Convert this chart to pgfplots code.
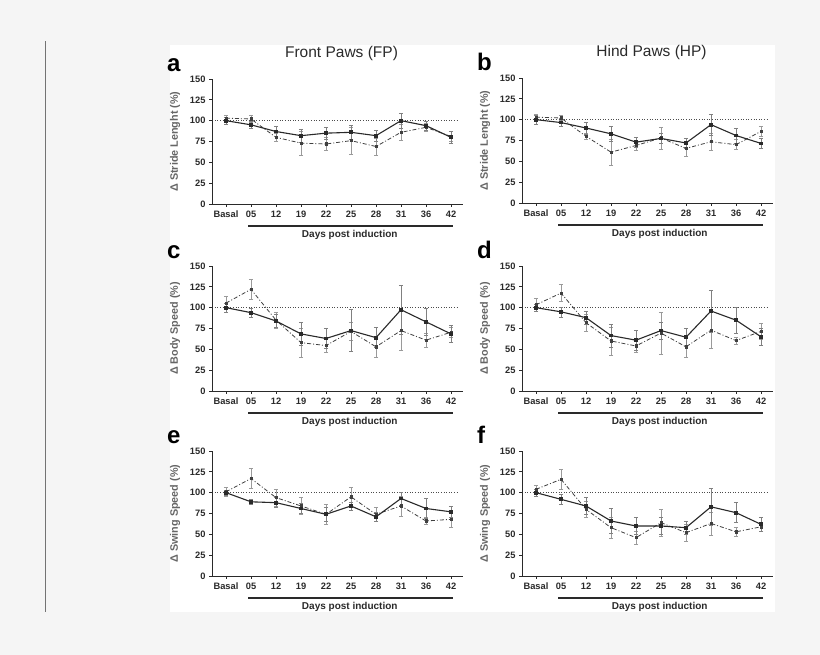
\documentclass[border=0pt]{standalone}
\usepackage{fontspec}
\setmainfont{Liberation Sans}
\usepackage{pgfplots}
\usepackage{pgfplotstable}
\pgfplotsset{compat=1.18}

\definecolor{bg}{HTML}{F5F5F5}
\definecolor{ink}{HTML}{2A2A2A}
\definecolor{ebar}{HTML}{808080}

\pgfplotstableread{
x s se d de
0 100 4 103 3
1 95 4 102 4
2 87 6 80 5
3 82 8 73 14
4 85 7 72 8
5 86 8 76 16
6 82 7 69 10
7 100 9 86 10
8 94 5 92 5
9 80 7 81 6
}\tabA
\pgfplotstableread{
x s se d de
0 100 5 103 3
1 96.5 5 102 3
2 90 7 80 4
3 83 9 61 16
4 73 6 69 6
5 77.5 6 78 13
6 72 6 65.5 9
7 94 13 73.5 10
8 81 9 70 6
9 71.5 6 86 6
}\tabB
\pgfplotstableread{
x s se d de
0 100 5 105.5 8
1 94 5 122 12
2 84 8 85 10
3 68.5 14 58 17
4 63 12 54.5 8
5 72.5 25 71.5 11
6 64 12 53 12
7 97.5 29 72.5 24
8 83 16 61 8
9 68.5 10 70.5 6
}\tabC
\pgfplotstableread{
x s se d de
0 100 4 103.5 8
1 95 6 117.5 10
2 88 8 82 10
3 66.5 14 60 17
4 61 12 54 8
5 72.5 10 69.5 25
6 64.5 11 53 13
7 96 25 73 22
8 85 16 60.5 4
9 65 10 71.5 10
}\tabD
\pgfplotstableread{
x s se d de
0 100 3 101 5
1 89 3 117 12
2 88 6 94 10
3 81 6 84 10
4 74 8 74 12
5 84 5 95 11
6 71 5 74 8
7 93 8 84 12
8 81 12 66 4
9 77 7 68 10
}\tabE
\pgfplotstableread{
x s se d de
0 100 4 104 5
1 92 6 116 12
2 84 10 80 10
3 66 15 58 13
4 60 10 46 8
5 60 10 64 16
6 58 8 52 10
7 83 22 63 14
8 76 12 53 5
9 62 8 59 5
}\tabF

\pgfplotsset{
  panel/.style={
    scale only axis, width=251pt, height=125pt,
    anchor=south west,
    axis x line=bottom, axis y line=left,
    axis line style={-, line width=0.9pt, ink},
    xmin=-0.56, xmax=9.48, ymin=0, ymax=150,
    xtick={0,...,9}, xticklabels={Basal,05,12,19,22,25,28,31,36,42},
    ytick={0,25,50,75,100,125,150},
    tick align=outside, major tick length=3pt,
    tick style={ink, line width=0.8pt},
    tick label style={font=\fontsize{9.3}{10}\selectfont\bfseries, text=ink},
    /pgf/number format/assume math mode=true,
    clip=false,
  },
  sser/.style={line width=1.1pt, ink, mark=square*, mark size=1.3pt,
    mark options={solid},
    error bars/.cd, y dir=both, y explicit,
    error bar style={line width=0.5pt, ebar, solid},
    error mark options={rotate=90, mark size=2.2pt, line width=0.5pt, ebar, solid}},
  dser/.style={line width=0.8pt, black!75, dash pattern=on 4pt off 2pt on 1pt off 2pt,
    mark=square*, mark size=1.1pt, mark options={solid},
    error bars/.cd, y dir=both, y explicit,
    error bar style={line width=0.5pt, ebar!80, solid},
    error mark options={rotate=90, mark size=2.2pt, line width=0.5pt, ebar!80, solid}},
}

\newcommand{\panel}[6]{% x0, y0, table, ylabel, letter, title
\begin{axis}[panel, at={(#1pt,#2pt)}]
  \addplot[black!70, dotted, line width=0.6pt] coordinates {(-0.45,100) (9.25,100)};
  \addplot[dser] table[x=x, y=d, y error=de] {#3};
  \addplot[sser] table[x=x, y=s, y error=se] {#3};
  \draw[ink, line width=1.1pt] (axis cs:0.88,-26.4) -- (axis cs:9.08,-26.4);
  \node[font=\fontsize{10}{12}\selectfont\bfseries, text=ink] at (axis cs:4.95,-37.5) {Days post induction};
  \node[rotate=90, font=\fontsize{10.8}{12}\selectfont\bfseries, text=black!60] at ([xshift=-37pt]rel axis cs:0,0.5) {#4};
  \node[anchor=base west, inner sep=0pt, font=\fontsize{24}{26}\selectfont\bfseries] at ([xshift=-45pt,yshift=7pt]rel axis cs:0,1) {#5};
  \node[font=\fontsize{15.5}{17}\selectfont, text=ink] at ([yshift=26pt]rel axis cs:0.516,1) {#6};
\end{axis}}

\begin{document}
\begin{tikzpicture}[x=1pt,y=1pt]
\useasboundingbox (0,0) rectangle (820,655);
\fill[bg] (0,0) rectangle (820,655);
\fill[white] (170,43) rectangle (775,610);
\draw[black!55, line width=0.8pt] (45,43) -- (45,614);
\panel{212}{451}{\tabA}{Δ Stride Lenght (\%)}{a}{Front Paws (FP)}
\panel{522}{452}{\tabB}{Δ Stride Lenght (\%)}{b}{Hind Paws (HP)}
\panel{212}{264}{\tabC}{Δ Body Speed (\%)}{c}{}
\panel{522}{264}{\tabD}{Δ Body Speed (\%)}{d}{}
\panel{212}{79}{\tabE}{Δ Swing Speed (\%)}{e}{}
\panel{522}{79}{\tabF}{Δ Swing Speed (\%)}{f}{}
\end{tikzpicture}
\end{document}
